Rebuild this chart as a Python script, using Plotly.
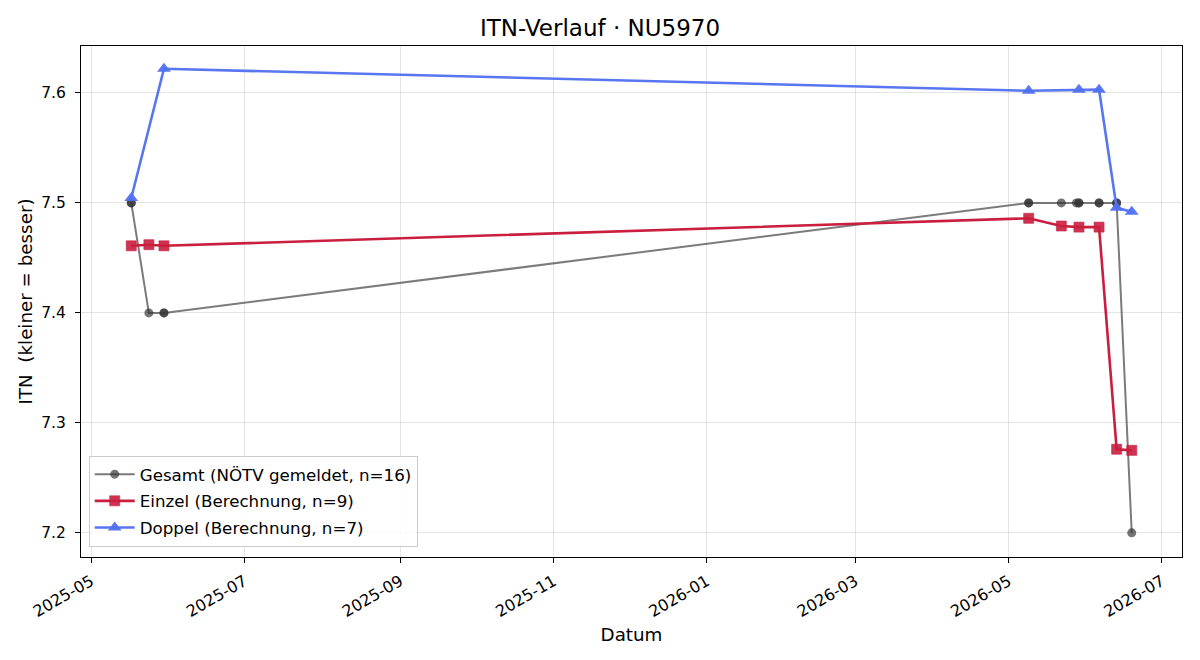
import plotly.graph_objects as go

gesamt_dates = ["2025-05-17", "2025-05-17", "2025-05-24", "2025-05-30", "2025-05-30",
                "2026-05-09", "2026-05-09", "2026-05-22", "2026-05-28", "2026-05-29",
                "2026-05-29", "2026-06-06", "2026-06-06", "2026-06-13", "2026-06-13",
                "2026-06-19"]
gesamt_vals = [7.5, 7.5, 7.4, 7.4, 7.4, 7.5, 7.5, 7.5, 7.5, 7.5, 7.5, 7.5, 7.5, 7.5, 7.5, 7.2]

einzel_dates = ["2025-05-17", "2025-05-24", "2025-05-30", "2026-05-09", "2026-05-22",
                "2026-05-29", "2026-06-06", "2026-06-13", "2026-06-19"]
einzel_vals = [7.461, 7.462, 7.461, 7.486, 7.479, 7.478, 7.478, 7.276, 7.275]

doppel_dates = ["2025-05-17", "2025-05-30", "2026-05-09", "2026-05-29", "2026-06-06",
                "2026-06-13", "2026-06-19"]
doppel_vals = [7.5045, 7.622, 7.602, 7.603, 7.603, 7.4955, 7.492]

tick_dates = ["2025-05-01", "2025-07-01", "2025-09-01", "2025-11-01",
              "2026-01-01", "2026-03-01", "2026-05-01", "2026-07-01"]
tick_labels = ["2025-05", "2025-07", "2025-09", "2025-11",
               "2026-01", "2026-03", "2026-05", "2026-07"]
y_ticks = [7.2, 7.3, 7.4, 7.5, 7.6]

FONT = "DejaVu Sans"

fig = go.Figure()
fig.add_trace(go.Scatter(
    x=gesamt_dates, y=gesamt_vals, mode="lines+markers",
    name="Gesamt (NÖTV gemeldet, n=16)", legendgroup="g",
    line=dict(color="rgba(60,60,60,0.68)", width=2),
    marker=dict(symbol="circle", size=9, color="rgba(50,50,50,0.68)",
                line=dict(width=0)),
))
fig.add_trace(go.Scatter(
    x=einzel_dates, y=einzel_vals, mode="lines+markers",
    name="Einzel (Berechnung, n=9)", legendgroup="e",
    line=dict(color="rgb(201,30,62)", width=2.6),
    marker=dict(symbol="square", size=10, color="rgba(201,30,62,0.9)",
                line=dict(width=1, color="rgba(201,30,62,0.6)")),
))
fig.add_trace(go.Scatter(
    x=doppel_dates, y=doppel_vals, mode="lines+markers",
    name="Doppel (Berechnung, n=7)", legendgroup="d",
    line=dict(color="rgb(88,118,240)", width=2.6),
    marker=dict(symbol="triangle-up", size=12, color="rgba(80,112,240,0.95)",
                line=dict(width=0)),
))

fig.update_layout(
    width=1200, height=660,
    margin=dict(l=81, r=18, t=46, b=103),
    paper_bgcolor="white", plot_bgcolor="white",
    font=dict(family=FONT, size=16, color="black"),
    title=dict(text="ITN-Verlauf · NU5970", x=0.5, xanchor="center",
               y=1 - 28 / 660, yanchor="middle", yref="container",
               font=dict(family=FONT, size=23, color="black")),
    legend=dict(x=0.007, y=0.02, xanchor="left", yanchor="bottom",
                bgcolor="rgba(255,255,255,0.85)", bordercolor="#cccccc",
                borderwidth=1, font=dict(family=FONT, size=16.7),
                traceorder="grouped", tracegroupgap=2, itemwidth=40),
    showlegend=True,
)
fig.update_xaxes(
    range=["2025-04-27", "2026-07-09"],
    tickmode="array", tickvals=tick_dates, ticktext=tick_labels,
    tickangle=-30, ticks="outside", ticklen=5, tickcolor="black",
    ticklabelstandoff=3,
    showline=True, linecolor="black", linewidth=1, mirror=True,
    showgrid=True, gridcolor="rgba(0,0,0,0.1)", gridwidth=1,
    zeroline=False,
    title=dict(text="Datum", font=dict(family=FONT, size=18.3), standoff=8),
    tickfont=dict(family=FONT, size=16),
)
fig.update_yaxes(
    range=[7.178, 7.6427],
    tickmode="array", tickvals=y_ticks, ticktext=[f"{v:.1f}" for v in y_ticks],
    ticks="outside", ticklen=5, tickcolor="black",
    ticklabelstandoff=6,
    showline=True, linecolor="black", linewidth=1, mirror=True,
    showgrid=True, gridcolor="rgba(0,0,0,0.1)", gridwidth=1,
    zeroline=False,
    title=dict(text="ITN\u00a0 (kleiner = besser)", font=dict(family=FONT, size=18.3), standoff=3),
    tickfont=dict(family=FONT, size=15.5),
)

fig.write_html("out.html")
